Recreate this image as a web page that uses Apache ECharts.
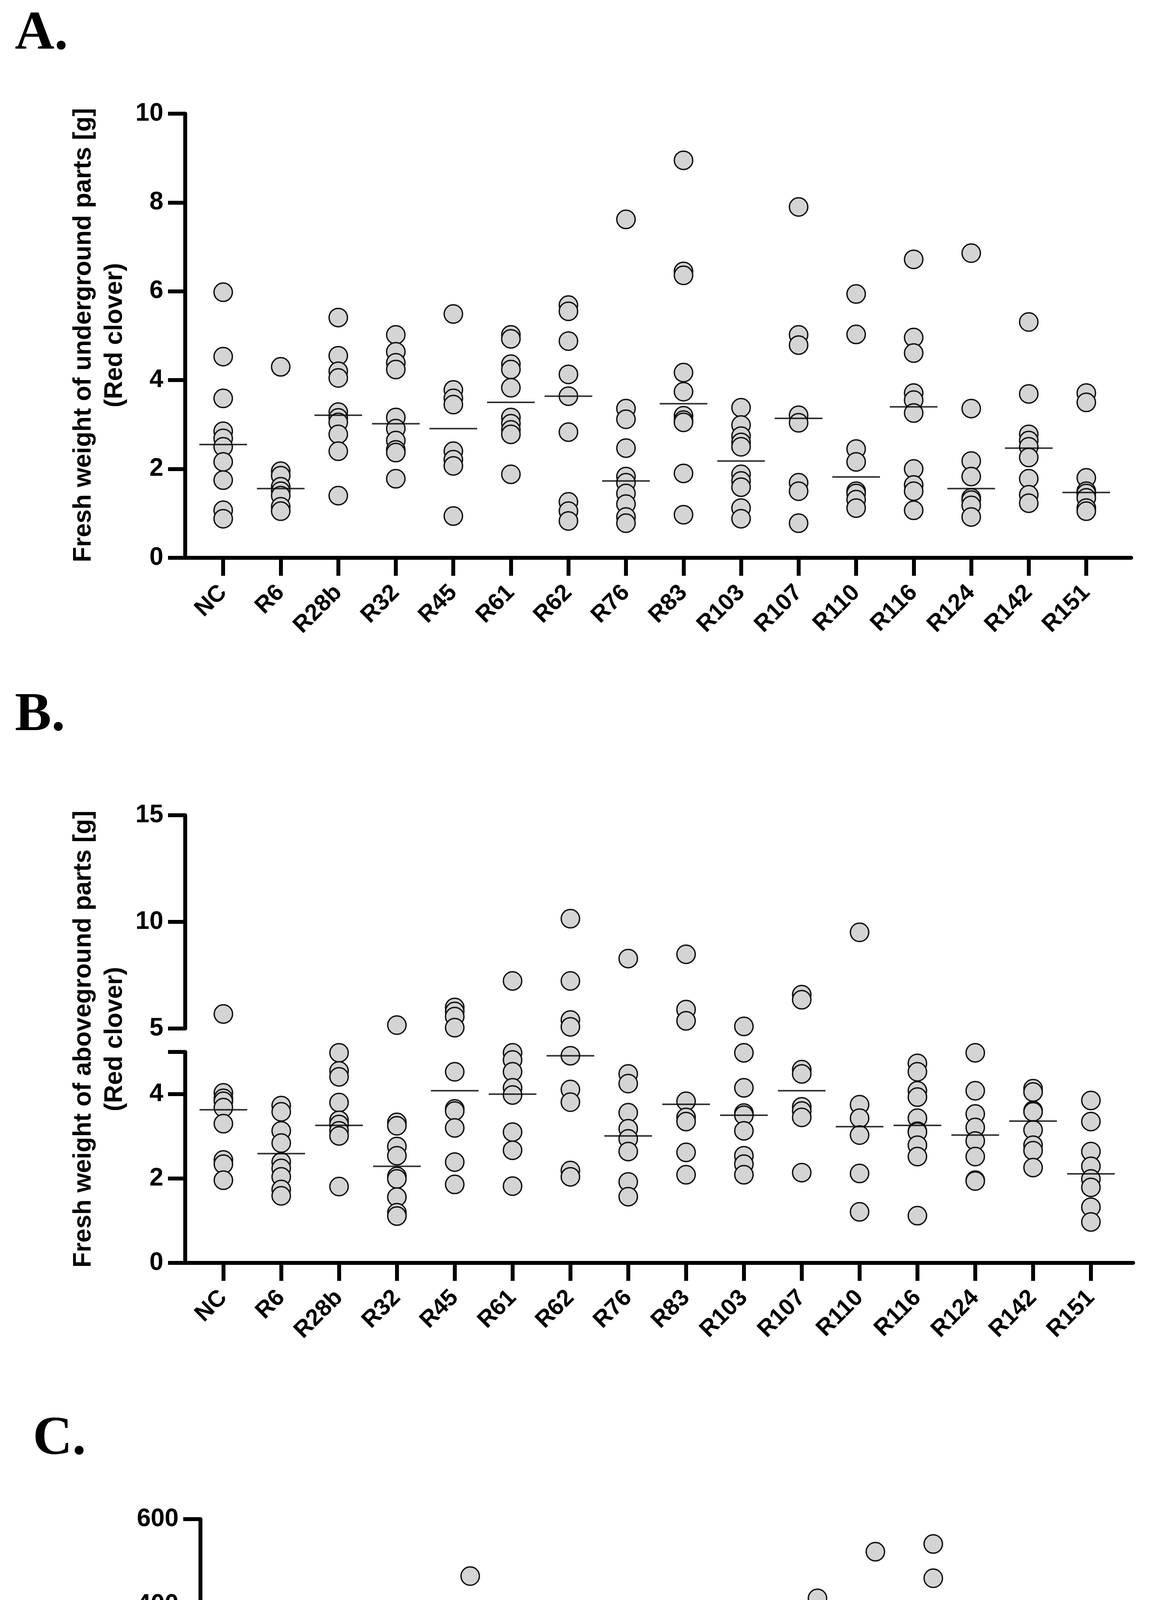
<!DOCTYPE html>
<html>
<head>
<meta charset="utf-8">
<script src="https://cdn.jsdelivr.net/npm/echarts@6/dist/echarts.min.js"></script>
<style>
html,body{margin:0;padding:0;background:#fff;}
#chart{width:2979px;height:5273px;}
</style>
</head>
<body>
<div id="chart"></div>
<script>
// ---------------- DATA ----------------
const categories = ['NC','R6','R28b','R32','R45','R61','R62','R76','R83','R103','R107','R110','R116','R124','R142','R151'];

// A. Fresh weight of underground parts [g]
const undergroundWeight = [
  [5.98, 4.53, 3.59, 2.85, 2.69, 2.50, 2.16, 1.75, 1.07, 0.88],
  [4.30, 1.95, 1.85, 1.60, 1.50, 1.40, 1.15, 1.05],
  [5.41, 4.55, 4.20, 4.05, 3.28, 3.15, 3.05, 2.78, 2.40, 1.40],
  [5.02, 4.64, 4.39, 4.24, 3.16, 2.91, 2.64, 2.43, 2.37, 1.78],
  [5.49, 3.78, 3.59, 3.45, 2.40, 2.21, 2.07, 0.94],
  [5.02, 4.93, 4.36, 4.24, 3.83, 3.16, 3.02, 2.88, 2.78, 1.88],
  [5.69, 5.55, 4.88, 4.13, 3.64, 2.83, 1.26, 1.05, 0.83],
  [7.62, 3.36, 3.12, 2.47, 1.83, 1.69, 1.45, 1.21, 0.92, 0.78],
  [8.95, 6.45, 6.36, 4.17, 3.74, 3.20, 3.10, 3.05, 1.90, 0.97],
  [3.38, 2.99, 2.74, 2.60, 2.50, 1.88, 1.73, 1.59, 1.12, 0.88],
  [7.90, 5.02, 4.79, 3.21, 3.04, 1.69, 1.50, 0.78],
  [5.94, 5.03, 2.45, 2.16, 1.50, 1.45, 1.31, 1.12],
  [6.72, 4.96, 4.61, 3.71, 3.55, 3.26, 2.00, 1.64, 1.50, 1.07],
  [6.86, 3.36, 2.18, 1.83, 1.35, 1.30, 1.18, 0.92],
  [5.31, 3.69, 2.78, 2.64, 2.50, 2.26, 1.78, 1.42, 1.23],
  [3.71, 3.50, 1.80, 1.50, 1.45, 1.35, 1.12, 1.05]
];
const undergroundMedian = [2.55, 1.56, 3.21, 3.02, 2.91, 3.50, 3.64, 1.73, 3.47, 2.18, 3.14, 1.82, 3.40, 1.56, 2.47, 1.47];

// B. Fresh weight of aboveground parts [g]
const abovegroundWeight = [
  [5.68, 4.03, 3.90, 3.83, 3.68, 3.30, 2.44, 2.34, 1.96],
  [3.73, 3.58, 3.13, 2.84, 2.39, 2.24, 2.04, 1.74, 1.59],
  [4.98, 4.55, 4.41, 3.80, 3.38, 3.28, 3.13, 3.01, 1.81],
  [5.16, 3.33, 3.25, 2.76, 2.54, 2.05, 1.99, 1.56, 1.19, 1.11],
  [5.99, 5.80, 5.56, 5.04, 4.53, 3.65, 3.60, 3.20, 2.39, 1.86],
  [7.23, 4.98, 4.81, 4.53, 4.15, 3.98, 3.10, 2.67, 1.82],
  [10.15, 7.23, 5.40, 5.08, 4.91, 4.11, 3.81, 2.19, 2.04],
  [8.28, 4.48, 4.25, 3.56, 3.18, 2.94, 2.64, 1.92, 1.57],
  [8.48, 5.89, 5.36, 3.83, 3.45, 3.35, 2.62, 2.09],
  [5.10, 4.98, 4.15, 3.55, 3.50, 3.13, 2.54, 2.34, 2.09],
  [6.59, 6.35, 4.58, 4.48, 3.70, 3.60, 3.45, 2.14],
  [9.51, 3.75, 3.43, 3.03, 2.12, 1.21],
  [4.73, 4.53, 4.08, 3.93, 3.43, 3.12, 3.10, 2.79, 2.52, 1.12],
  [4.98, 4.08, 3.53, 3.21, 2.89, 2.52, 1.96, 1.94],
  [4.13, 4.05, 3.61, 3.58, 3.15, 2.79, 2.66, 2.26],
  [3.85, 3.35, 2.64, 2.29, 1.99, 1.79, 1.32, 0.97]
];
const abovegroundMedian = [3.63, 2.59, 3.26, 2.29, 4.08, 4.00, 4.91, 3.01, 3.76, 3.50, 4.08, 3.23, 3.26, 3.03, 3.36, 2.11];

// C. Number of nodules
const noduleCount = [
  [32, 26, 24, 19, 16, 15, 13, 10, 8],
  [111, 64, 51, 17, 14, 13, 9, 5, 3],
  [32, 12, 10, 7, 5, 5, 3, 2, 1],
  [52, 24, 17, 13, 9, 7, 6, 4, 3, 2],
  [467, 335, 325, 295, 248, 238, 116, 75, 69, 40],
  [258, 222, 195, 175, 148, 138, 118, 100],
  [240, 212, 168, 150, 142, 83, 52, 40],
  [333, 274, 262, 140, 128, 123, 73, 71, 54],
  [336, 240, 218, 187, 176, 166, 160, 130, 111, 100],
  [104, 98, 94, 83, 76, 73, 69, 64, 34, 27],
  [415, 276, 238, 223, 187, 62, 57, 46],
  [524, 190, 153, 73, 62, 50, 36, 23],
  [542, 462, 333, 313, 269, 252, 218, 133],
  [150, 122, 95, 93, 64, 47, 46, 45, 25, 21],
  [29, 27, 20, 17, 15, 14, 12, 7, 5],
  [238, 221, 180, 172, 130, 122, 97, 93, 86, 85]
];
const noduleMedian = [15.6, 14, 5.2, 7.7, 243, 161, 148, 129, 169, 74, 204, 68, 259, 55, 15, 122];

// axis ticks / labels
const ticksA = [0, 2, 4, 6, 8, 10];
const ticksBUpper = [5, 10, 15];
const labelsBUpper = [5, 10, 15];
const ticksBLower = [0, 2, 4, 5];
const labelsBLower = [0, 2, 4];
const ticksCUpper = [100, 200, 400, 600];
const labelsCUpper = [200, 400, 600];
const ticksCLower = [0, 50, 100];
const labelsCLower = [0, 50, 100];
const breakB = 5;
const breakC = 100;

// ---------------- STYLE / LAYOUT ----------------
const SANS = '"Liberation Sans", Arial, sans-serif';
const SERIF = '"Liberation Serif", "Times New Roman", serif';
const catIdx = categories.map((c, i) => i);

const grids = [
  {left: 474, top: 291,  width: 2421, height: 1137}, // A
  {left: 474, top: 2087, width: 2426, height: 546},  // B upper
  {left: 474, top: 2693, width: 2426, height: 540},  // B lower
  {left: 513, top: 3889, width: 2431, height: 548},  // C upper
  {left: 513, top: 4495, width: 2431, height: 543}   // C lower
];
const xMax = [15.78, 15.73, 15.73, 15.75, 15.75];

function xAxisFor(i, visible) {
  return {
    type: 'value', gridIndex: i, min: -0.66, max: xMax[i], show: visible,
    axisLine: {show: true, onZero: false, lineStyle: {color: '#000', width: 10}},
    axisTick: {show: true, customValues: catIdx, length: 46, lineStyle: {color: '#000', width: 10}},
    axisLabel: {
      show: true, customValues: catIdx, rotate: 45, margin: 80,
      formatter: v => categories[Math.round(v)],
      color: '#000', fontFamily: SANS, fontWeight: 'bold', fontSize: 60
    },
    splitLine: {show: false}
  };
}
function yAxisFor(i, min, max, ticks, labels) {
  return {
    type: 'value', gridIndex: i, min: min, max: max,
    axisLine: {show: true, onZero: false, lineStyle: {color: '#000', width: 10}},
    axisTick: {show: true, customValues: ticks, length: 44, lineStyle: {color: '#000', width: 10}},
    axisLabel: {show: true, customValues: labels, margin: 56, color: '#000',
                fontFamily: SANS, fontWeight: 'bold', fontSize: 64},
    splitLine: {show: false}
  };
}

function toPoints(groups, test) {
  const out = [];
  groups.forEach((g, i) => g.forEach(v => { if (test(v)) out.push([i, v]); }));
  return out;
}
function medPoints(meds, test) {
  const out = [];
  meds.forEach((m, i) => { if (test(m)) out.push([i, m]); });
  return out;
}

const dotStyle = {color: '#d4d4d4', borderColor: '#111', borderWidth: 3.5, opacity: 1};
function dots(idx, data) {
  return {type: 'scatter', xAxisIndex: idx, yAxisIndex: idx, data: data, symbol: 'circle',
          symbolSize: 47, itemStyle: dotStyle, clip: false, silent: true, z: 3};
}
function meds(idx, data) {
  return {type: 'scatter', xAxisIndex: idx, yAxisIndex: idx, data: data, symbol: 'rect',
          symbolSize: [122, 4], itemStyle: {color: '#000'}, clip: false, silent: true, z: 4};
}

function yTitle(x, y, text) {
  return {type: 'text', x: x, y: y, rotation: Math.PI / 2, silent: true,
          style: {text: text, textAlign: 'center', textVerticalAlign: 'middle',
                  font: 'bold 64px ' + SANS, lineHeight: 80, fill: '#000'}};
}
function panelLetter(x, y, text) {
  return {type: 'text', x: x, y: y, silent: true,
          style: {text: text, textAlign: 'left', textVerticalAlign: 'middle',
                  font: 'bold 140px ' + SERIF, fill: '#000'}};
}

const option = {
  animation: false,
  backgroundColor: '#fff',
  grid: grids.map(g => Object.assign({containLabel: false}, g)),
  xAxis: [xAxisFor(0, true), xAxisFor(1, false), xAxisFor(2, true), xAxisFor(3, false), xAxisFor(4, true)],
  yAxis: [
    yAxisFor(0, 0, 10, ticksA, ticksA),
    yAxisFor(1, breakB, 15, ticksBUpper, labelsBUpper),
    yAxisFor(2, 0, breakB, ticksBLower, labelsBLower),
    yAxisFor(3, breakC, 600, ticksCUpper, labelsCUpper),
    yAxisFor(4, 0, breakC, ticksCLower, labelsCLower)
  ],
  series: [
    dots(0, toPoints(undergroundWeight, () => true)),
    meds(0, medPoints(undergroundMedian, () => true)),
    dots(1, toPoints(abovegroundWeight, v => v > breakB)),
    dots(2, toPoints(abovegroundWeight, v => v <= breakB)),
    meds(1, medPoints(abovegroundMedian, v => v > breakB)),
    meds(2, medPoints(abovegroundMedian, v => v <= breakB)),
    dots(3, toPoints(noduleCount, v => v > breakC)),
    dots(4, toPoints(noduleCount, v => v <= breakC)),
    meds(3, medPoints(noduleMedian, v => v > breakC)),
    meds(4, medPoints(noduleMedian, v => v <= breakC))
  ],
  graphic: [
    panelLetter(38, 89, 'A.'),
    panelLetter(38, 1833, 'B.'),
    panelLetter(84, 3686, 'C.'),
    yTitle(254, 858, 'Fresh weight of underground parts [g]\n(Red clover)'),
    yTitle(254, 2660, 'Fresh weight of aboveground parts [g]\n(Red clover)'),
    yTitle(254, 4462, 'Number of nodules\n(Red clover)')
  ]
};

const chart = echarts.init(document.getElementById('chart'), null, {renderer: 'canvas', width: 2979, height: 5273});
chart.setOption(option);
</script>
</body>
</html>
